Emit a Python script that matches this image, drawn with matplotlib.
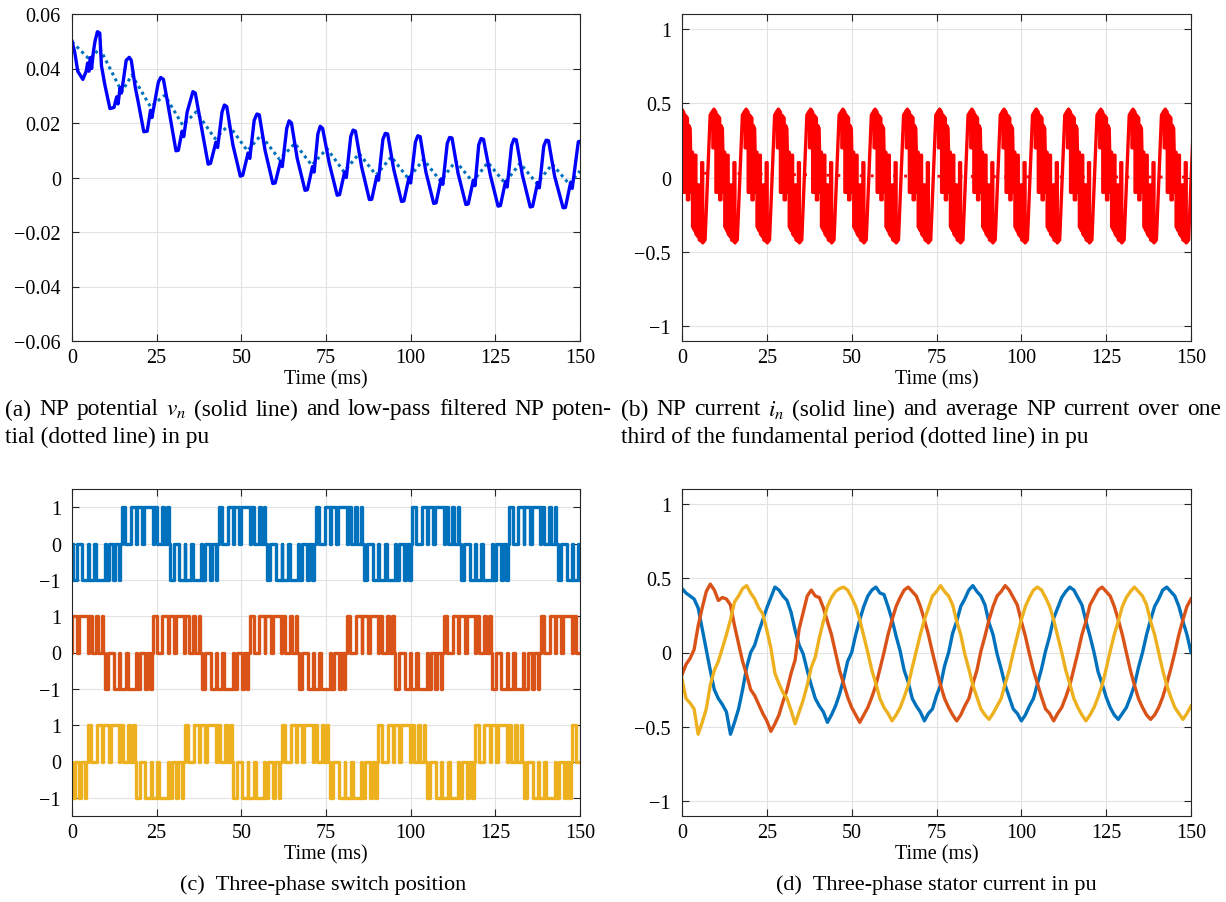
import numpy as np
import matplotlib
matplotlib.use('Agg')
import matplotlib.pyplot as plt

plt.rcParams['font.family'] = ['Liberation Serif', 'DejaVu Serif']
plt.rcParams['mathtext.fontset'] = 'stix'
plt.rcParams['font.size'] = 14

# ---- (a) NP potential, solid: vertices (ms, pu)
vn_t = [0.0, 0.8, 1.7, 3.2, 4.2, 4.6, 5.0, 5.4, 5.8, 6.3, 6.8, 7.5, 8.2, 8.7, 9.7, 11.2, 12.4,
        13.2, 13.6, 14.2, 14.6, 15.2, 16.0, 16.9, 17.5, 18.7, 19.5, 21.2, 22.2,
        23.2, 23.6, 24.7, 25.5, 26.2, 27.0, 28.3, 30.7, 31.4,
        32.5, 33.0, 34.0, 35.7, 36.4, 38.0, 40.2, 40.9,
        42.5, 43.0, 44.3, 45.0, 45.7, 47.5, 49.7, 50.4,
        52.0, 52.5, 53.8, 54.6, 55.3, 57.0, 59.3, 60.0,
        61.6, 62.1, 63.4, 64.1, 64.8, 66.5, 68.8, 69.5,
        71.0, 71.5, 72.6, 73.3, 74.0, 76.0, 78.3, 79.0,
        80.5, 81.0, 82.3, 83.0, 83.7, 85.5, 87.8, 88.5,
        90.0, 90.5, 91.8, 92.5, 93.2, 95.0, 97.3, 98.0,
        99.5, 100.0, 101.4, 102.1, 102.8, 104.5, 106.8, 107.5,
        109.0, 109.5, 110.8, 111.5, 112.2, 114.0, 116.3, 117.0,
        118.5, 119.0, 120.1, 120.8, 121.5, 123.5, 125.8, 126.5,
        128.0, 128.5, 129.8, 130.5, 131.2, 133.0, 135.3, 136.0,
        137.5, 138.0, 139.3, 140.0, 140.7, 142.5, 145.0, 145.7,
        147.2, 147.7, 149.5, 150.0]
vn_v = [0.050, 0.046, 0.039, 0.036, 0.039, 0.042, 0.039, 0.044, 0.040, 0.046, 0.050, 0.0535, 0.053, 0.041, 0.034, 0.0253, 0.0257,
        0.0296, 0.027, 0.033, 0.031, 0.036, 0.043, 0.0441, 0.043, 0.033, 0.028, 0.0168, 0.017,
        0.0247, 0.022, 0.0296, 0.035, 0.0367, 0.036, 0.027, 0.0098, 0.010,
        0.017, 0.015, 0.024, 0.0315, 0.031, 0.020, 0.0049, 0.0052,
        0.013, 0.011, 0.024, 0.0266, 0.026, 0.012, 0.0005, 0.0008,
        0.009, 0.007, 0.021, 0.0233, 0.023, 0.010, -0.0022, -0.002,
        0.006, 0.004, 0.018, 0.0208, 0.020, 0.007, -0.0047, -0.0045,
        0.004, 0.002, 0.016, 0.0188, 0.018, 0.005, -0.0065, -0.0063,
        0.002, 0.000, 0.015, 0.0174, 0.017, 0.004, -0.0081, -0.008,
        0.0005, -0.001, 0.014, 0.0162, 0.016, 0.003, -0.0088, -0.0086,
        0.000, -0.002, 0.013, 0.0153, 0.015, 0.002, -0.0095, -0.0093,
        -0.0005, -0.0025, 0.0125, 0.0147, 0.0145, 0.0015, -0.0099, -0.0097,
        -0.001, -0.003, 0.012, 0.0143, 0.014, 0.001, -0.0105, -0.0103,
        -0.0015, -0.0035, 0.0118, 0.0141, 0.0138, 0.0008, -0.0108, -0.0106,
        -0.0018, -0.0038, 0.0115, 0.0137, 0.0135, 0.0005, -0.0111, -0.011,
        -0.002, -0.004, 0.0131, 0.0133]

# (a) low-pass filtered NP potential, dotted
vf_t = [0.0, 5.2, 8.2, 14.7, 17.7, 23.2, 27.4, 32.7, 36.7, 42.2, 46.3, 51.8, 55.8, 61.3, 65.8,
        70.8, 75.3, 80.3, 84.8, 89.8, 94.3, 99.3, 103.8, 108.8, 113.3, 118.3, 122.8, 127.8,
        132.3, 137.3, 141.8, 146.8, 150.0]
vf_v = [0.0498, 0.0433, 0.0474, 0.0315, 0.0376, 0.0259, 0.0302, 0.0192, 0.0241, 0.0143, 0.0192,
        0.0098, 0.0155, 0.0066, 0.0125, 0.0045, 0.0106, 0.0021, 0.0088, 0.0009, 0.0076, -0.0004,
        0.0066, -0.0013, 0.0060, -0.0016, 0.0055, -0.0020, 0.0052, -0.0022, 0.0049, -0.0024, 0.0024]

# ---- (b) NP current: one third-period shape (ms from trough, pu) and trough times
in_shape_dt = [0.0, 1.5, 2.3, 2.3, 2.6, 2.6, 3.2, 3.2, 3.6, 3.6, 4.3, 4.3, 4.7, 4.7, 5.1,
               5.5, 5.5, 5.8, 5.8, 6.5, 6.5, 6.8, 6.8, 7.5, 7.5, 7.8, 7.8, 8.5, 8.5, 8.8, 8.8]
in_shape_v = [-0.42, 0.42, 0.45, 0.20, 0.20, 0.46, 0.44, -0.10, -0.10, 0.42, 0.40, -0.15, -0.15, 0.35, 0.33,
              -0.10, 0.17, 0.17, -0.33, -0.36, 0.15, 0.15, -0.38, -0.40, -0.05, -0.05, -0.42, -0.43, 0.10, 0.10, -0.44]
in_troughs = [-2.7, 6.8, 16.3, 25.8, 35.3, 44.8, 54.3, 63.8, 73.3, 82.8, 92.3, 101.8, 111.3,
              120.8, 130.3, 139.8, 149.3]
in_avg_t = [0, 20, 50, 100, 150]
in_avg_v = [0.03, 0.025, 0.012, 0.005, 0.003]

# ---- (c) switch positions: pulse intervals within a half period, and half-period starts
sw_pulses = [(0.2, 1.2), (2.9, 4.5), (4.7, 6.3), (6.9, 9.4), (9.7, 10.6), (12.0, 12.6), (13.6, 14.0)]
sw_a = [(0.2, -1), (14.5, 1), (28.8, -1), (43.1, 1), (57.4, -1), (71.7, 1), (86.0, -1),
        (100.3, 1), (114.6, -1), (128.9, 1), (143.2, -1)]
sw_b = [(-4.8, 1), (9.5, -1), (23.8, 1), (38.1, -1), (52.4, 1), (66.7, -1), (81.0, 1),
        (95.3, -1), (109.6, 1), (123.9, -1), (138.2, 1)]
sw_c = [(-9.8, -1), (4.5, 1), (18.8, -1), (33.1, 1), (47.4, -1), (61.7, 1), (76.0, -1),
        (90.3, 1), (104.6, -1), (118.9, 1), (133.2, -1), (147.5, 1)]

# ---- (d) stator currents sampled every 150/126 ms
is_a = [0.43, 0.40, 0.38, 0.36, 0.30, 0.16, 0.02, -0.12, -0.25, -0.31,
        -0.35, -0.40, -0.55, -0.47, -0.38, -0.25, -0.10, 0.00, 0.05, 0.14,
        0.22, 0.30, 0.37, 0.44, 0.42, 0.38, 0.35, 0.27, 0.15, 0.05,
        -0.01, -0.12, -0.22, -0.31, -0.36, -0.40, -0.47, -0.42, -0.36, -0.28,
        -0.18, -0.06, 0.00, 0.12, 0.22, 0.31, 0.38, 0.42,
        0.44, 0.40, 0.39, 0.31, 0.22, 0.11, 0.01, -0.12, -0.20, -0.31, -0.36, -0.40,
        -0.46, -0.41, -0.38, -0.29, -0.22, -0.09, 0.00, 0.13, 0.21, 0.31, 0.36, 0.42,
        0.45, 0.41, 0.38, 0.32, 0.20, 0.12, -0.01, -0.11, -0.22, -0.30, -0.38, -0.41,
        -0.46, -0.42, -0.36, -0.31, -0.21, -0.11, 0.01, 0.11, 0.23, 0.30, 0.37, 0.41,
        0.44, 0.42, 0.37, 0.32, 0.21, 0.11, 0.00, -0.13, -0.21, -0.30, -0.37, -0.42,
        -0.45, -0.41, -0.37, -0.30, -0.22, -0.10, 0.00, 0.12, 0.22, 0.31, 0.36, 0.42,
        0.44, 0.41, 0.38, 0.31, 0.21, 0.12, 0.00]
is_b = [-0.15, -0.08, -0.04, 0.02, 0.18, 0.30, 0.41, 0.46, 0.42, 0.35,
        0.37, 0.36, 0.32, 0.18, 0.06, -0.06, -0.15, -0.25, -0.29, -0.35,
        -0.41, -0.46, -0.53, -0.48, -0.42, -0.33, -0.25, -0.14, -0.05, 0.16,
        0.27, 0.38, 0.42, 0.38, 0.37, 0.30, 0.21, 0.12, 0.00, -0.12,
        -0.21, -0.30, -0.37, -0.42, -0.47, -0.42, -0.37, -0.30, -0.22, -0.11,
        0.00, 0.12, 0.22, 0.31, 0.37, 0.42,
        0.44, 0.41, 0.38, 0.31, 0.22, 0.12, 0.00, -0.11, -0.22, -0.31, -0.37, -0.42,
        -0.46, -0.42, -0.36, -0.31, -0.21, -0.12, 0.01, 0.11, 0.22, 0.31, 0.38, 0.41,
        0.45, 0.42, 0.37, 0.32, 0.21, 0.11, -0.01, -0.12, -0.21, -0.30, -0.38, -0.41,
        -0.46, -0.41, -0.37, -0.30, -0.22, -0.11, 0.00, 0.12, 0.21, 0.32, 0.37, 0.42,
        0.44, 0.41, 0.38, 0.31, 0.22, 0.12, 0.00, -0.12, -0.22, -0.31, -0.37, -0.42,
        -0.45, -0.42, -0.37, -0.30, -0.21, -0.11, 0.00, 0.12, 0.22, 0.31, 0.36]
is_c = [-0.18, -0.31, -0.34, -0.38, -0.55, -0.47, -0.38, -0.22, -0.12, -0.06,
        0.03, 0.12, 0.22, 0.34, 0.38, 0.43, 0.45, 0.40, 0.36, 0.30,
        0.26, 0.15, 0.03, -0.14, -0.21, -0.27, -0.31, -0.39, -0.48, -0.40,
        -0.32, -0.22, -0.10, -0.03, 0.10, 0.21, 0.31, 0.37, 0.41, 0.43,
        0.44, 0.42, 0.37, 0.31, 0.22, 0.11, 0.00, -0.12, -0.21, -0.31, -0.37, -0.41,
        -0.46, -0.42, -0.37, -0.30, -0.22, -0.10, 0.01, 0.12, 0.22, 0.30, 0.38, 0.41,
        0.45, 0.41, 0.38, 0.32, 0.21, 0.12, -0.01, -0.11, -0.22, -0.30, -0.38, -0.42,
        -0.45, -0.41, -0.36, -0.31, -0.21, -0.12, 0.00, 0.11, 0.22, 0.31, 0.37, 0.42,
        0.44, 0.42, 0.37, 0.31, 0.22, 0.11, 0.00, -0.12, -0.21, -0.31, -0.37, -0.42,
        -0.46, -0.42, -0.37, -0.30, -0.22, -0.11, 0.01, 0.12, 0.21, 0.31, 0.37, 0.41,
        0.44, 0.41, 0.38, 0.32, 0.21, 0.12, 0.00, -0.12, -0.22, -0.30, -0.37, -0.41,
        -0.45, -0.41, -0.36]
is_t = np.linspace(0, 150, len(is_a))

xticks = [0, 25, 50, 75, 100, 125, 150]
blue, orange, yellow = '#0072BD', '#D95319', '#EDB120'
fs_tick = 14.5


def style(ax, ylim, yticks, ylabels):
    ax.set_xlim(0, 150)
    ax.set_ylim(*ylim)
    ax.set_xticks(xticks)
    ax.set_yticks(yticks)
    ax.set_yticklabels(ylabels)
    ax.grid(True, color='#e2e2e2', lw=0.8)
    ax.set_axisbelow(True)
    ax.tick_params(direction='in', top=True, right=True, length=5, width=0.8,
                   color='#262626', labelsize=fs_tick)
    ax.tick_params(axis='y', pad=8)
    ax.tick_params(axis='x', pad=5)
    for sp in ax.spines.values():
        sp.set_color('#262626')
        sp.set_linewidth(0.8)
    ax.set_xlabel('Time (ms)', labelpad=2, fontsize=fs_tick)


def switch_trace(halves):
    t, v = [], []
    for s, sign in halves:
        for a, b in sw_pulses:
            t += [s + a, s + a, s + b, s + b]
            v += [0, sign, sign, 0]
    return np.array(t), np.array(v)


fig = plt.figure(figsize=(12.26, 9.03), dpi=100)
W, H = 1226, 903
def box(x0, y0, x1, y1):
    return [x0 / W, 1 - y1 / H, (x1 - x0) / W, (y1 - y0) / H]

ax_a = fig.add_axes(box(72, 15, 580, 342))
ax_b = fig.add_axes(box(682, 15, 1191, 342))
ax_c = fig.add_axes(box(72, 490, 580, 817))
ax_d = fig.add_axes(box(682, 490, 1191, 817))

# (a)
ax_a.plot(vf_t, vf_v, ls=(0, (1, 1.2)), color=blue, lw=2.2)
ax_a.plot(vn_t, vn_v, color='#0000ff', lw=2.4)
style(ax_a, (-0.06, 0.06), [-0.06, -0.04, -0.02, 0, 0.02, 0.04, 0.06],
      ['\u22120.06', '\u22120.04', '\u22120.02', '0', '0.02', '0.04', '0.06'])

# (b)
bt = np.concatenate([s + np.array(in_shape_dt) for s in in_troughs])
bv = np.concatenate([np.array(in_shape_v) for s in in_troughs])
ax_b.plot(bt, bv, color='#ff0000', lw=2.4)
ax_b.plot(in_avg_t, in_avg_v, ls=(0, (1, 3)), color='#ff0000', lw=2.0)
style(ax_b, (-1.1, 1.1), [-1, -0.5, 0, 0.5, 1], ['\u22121', '\u22120.5', '0', '0.5', '1'])

# (c)
for halves, off, col in [(sw_a, 6, blue), (sw_b, 3, orange), (sw_c, 0, yellow)]:
    t, v = switch_trace(halves)
    ax_c.plot(t, v + off, color=col, lw=2.4)
style(ax_c, (-1.5, 7.5), [-1, 0, 1, 2, 3, 4, 5, 6, 7],
      ['\u22121', '0', '1', '\u22121', '0', '1', '\u22121', '0', '1'])

# (d)
ax_d.plot(is_t, is_a, color=blue, lw=2.4)
ax_d.plot(is_t, is_b, color=orange, lw=2.4)
ax_d.plot(is_t, is_c, color=yellow, lw=2.4)
style(ax_d, (-1.1, 1.1), [-1, -0.5, 0, 0.5, 1], ['\u22121', '\u22120.5', '0', '0.5', '1'])

# captions
fs = 16.8
renderer = fig.canvas.get_renderer()


def justified(line, x0, x1, y):
    words = line.split()
    texts = [fig.text(0, 1 - y / H, w, fontsize=fs, va='center') for w in words]
    widths = [t.get_window_extent(renderer).width for t in texts]
    gap = (x1 - x0 - sum(widths)) / (len(words) - 1)
    x = x0
    for t, w in zip(texts, widths):
        t.set_x(x / W)
        x += w + gap


justified(r'(a) NP potential $v_n$ (solid line) and low-pass filtered NP poten-', 5, 612, 410)
fig.text(5 / W, 1 - 437 / H, 'tial (dotted line) in pu', fontsize=fs, va='center')
justified(r'(b) NP current $i_n$ (solid line) and average NP current over one', 621, 1221, 410)
fig.text(621 / W, 1 - 437 / H, 'third of the fundamental period (dotted line) in pu',
         fontsize=fs, va='center')
fig.text(323 / W, 1 - 885 / H, '(c)  Three-phase switch position', fontsize=16, ha='center', va='center')
fig.text(936 / W, 1 - 885 / H, '(d)  Three-phase stator current in pu', fontsize=16, ha='center', va='center')

fig.savefig('out.png', dpi=100)
